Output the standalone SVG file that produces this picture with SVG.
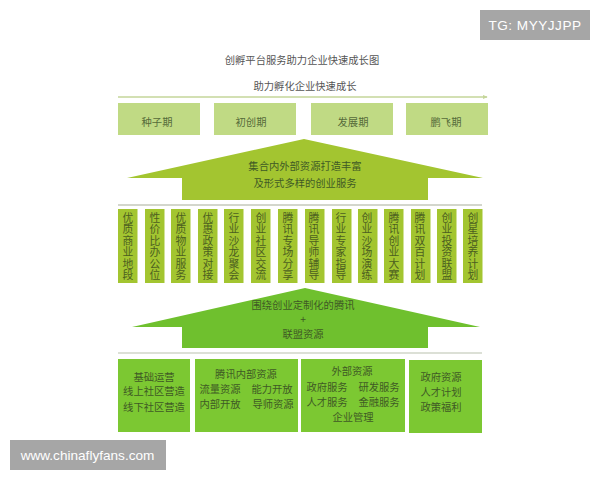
<svg xmlns="http://www.w3.org/2000/svg" width="600" height="480" viewBox="0 0 600 480">
<defs><marker id="ah" markerWidth="4" markerHeight="4" refX="3" refY="2" orient="auto"><path d="M0,0.5L3.5,2L0,3.5z" fill="#c5d69a"/></marker></defs>
<style>
text{font-family:"Noto Sans CJK SC","Liberation Serif",serif;text-anchor:middle;fill:#4a5a38;font-size:10.3px}
.t{fill:#555}
.s{fill:#c0da84}
.v{fill:#a3c530}
.b{fill:#7cc832}
.bt{fill:#3f5a25}
.vt{font-size:10.8px;fill:#4c5f20;writing-mode:vertical-rl;text-anchor:start;letter-spacing:.6px}
.st{fill:#566b3a}
.wm{fill:#a6a6a6}
.wt{font-family:"Liberation Sans",sans-serif;fill:#fff;font-size:13.6px}
</style>
<rect width="600" height="480" fill="#fff"/>
<g id="title"><text class="t" x="302" y="64">创孵平台服务助力企业快速成长图</text></g>
<g id="connectors">
<line x1="118" y1="97" x2="487" y2="97" stroke="#c5d69a" stroke-width="1.5" marker-end="url(#ah)"/>
<line x1="118" y1="205" x2="482" y2="205" stroke="#c4c9bb" stroke-width="1.5"/>
<line x1="118" y1="353" x2="482" y2="353" stroke="#d0d6c8" stroke-width="1.5"/>
</g>
<g id="timeline-label"><text class="t" x="305" y="90">助力孵化企业快速成长</text></g>
<g id="stage1"><rect class="s" x="118" y="103" width="82" height="32"/><text class="st" x="157" y="126">种子期</text></g>
<g id="stage2"><rect class="s" x="214" y="103" width="82" height="32"/><text class="st" x="251" y="126">初创期</text></g>
<g id="stage3"><rect class="s" x="311" y="103" width="82" height="32"/><text class="st" x="353" y="126">发展期</text></g>
<g id="stage4"><rect class="s" x="406" y="103" width="82" height="32"/><text class="st" x="446" y="126">鹏飞期</text></g>
<g id="arrow1"><path class="v" d="M304,139L483,178L428,178L428,200L182,200L182,178L127,178z"/>
<text class="bt" x="305" y="170">集合内外部资源打造丰富</text><text class="bt" x="305" y="187">及形式多样的创业服务</text></g>
<g id="service1"><rect class="v" x="118" y="209" width="19.500" height="74"/><text class="vt" x="128" y="212.500">优质商业地段</text></g>
<g id="service2"><rect class="v" x="145" y="209" width="19.500" height="74"/><text class="vt" x="155" y="212.500">性价比办公位</text></g>
<g id="service3"><rect class="v" x="171" y="209" width="19.500" height="74"/><text class="vt" x="181" y="212.500">优质物业服务</text></g>
<g id="service4"><rect class="v" x="198" y="209" width="19.500" height="74"/><text class="vt" x="208" y="212.500">优惠政策对接</text></g>
<g id="service5"><rect class="v" x="224" y="209" width="19.500" height="74"/><text class="vt" x="234" y="212.500">行业沙龙聚会</text></g>
<g id="service6"><rect class="v" x="251" y="209" width="19.500" height="74"/><text class="vt" x="261" y="212.500">创业社区交流</text></g>
<g id="service7"><rect class="v" x="278" y="209" width="19.500" height="74"/><text class="vt" x="288" y="212.500">腾讯专场分享</text></g>
<g id="service8"><rect class="v" x="305" y="209" width="19.500" height="74"/><text class="vt" x="314" y="212.500">腾讯导师辅导</text></g>
<g id="service9"><rect class="v" x="332" y="209" width="19.500" height="74"/><text class="vt" x="341" y="212.500">行业专家指导</text></g>
<g id="service10"><rect class="v" x="358" y="209" width="19.500" height="74"/><text class="vt" x="367" y="212.500">创业沙场演练</text></g>
<g id="service11"><rect class="v" x="384" y="209" width="19.500" height="74"/><text class="vt" x="394" y="212.500">腾讯创业大赛</text></g>
<g id="service12"><rect class="v" x="411" y="209" width="19.500" height="74"/><text class="vt" x="420" y="212.500">腾讯双百计划</text></g>
<g id="service13"><rect class="v" x="437" y="209" width="19.500" height="74"/><text class="vt" x="447" y="212.500">创业投资联盟</text></g>
<g id="service14"><rect class="v" x="463" y="209" width="19.500" height="74"/><text class="vt" x="473" y="212.500">创星培养计划</text></g>
<g id="arrow2"><path fill="#6fc02e" d="M305,288L480,327L428,327L428,348L182,348L182,327L132,327z"/>
<text class="bt" x="303" y="309">围绕创业定制化的腾讯</text><text class="bt" x="303" y="323">+</text><text class="bt" x="303" y="338">联盟资源</text></g>
<g id="res1"><rect class="b" x="118" y="359" width="72" height="73"/>
<text class="bt" x="154" y="381">基础运营</text><text class="bt" x="154" y="395">线上社区营造</text><text class="bt" x="154" y="410.500">线下社区营造</text></g>
<g id="res2"><rect class="b" x="195" y="359" width="103" height="73"/>
<text class="bt" x="246" y="378">腾讯内部资源</text><text class="bt" x="220" y="393">流量资源</text><text class="bt" x="272" y="393">能力开放</text><text class="bt" x="220" y="408">内部开放</text><text class="bt" x="273" y="408">导师资源</text></g>
<g id="res3"><rect class="b" x="301" y="359" width="104" height="73"/>
<text class="bt" x="352" y="375">外部资源</text><text class="bt" x="327" y="391">政府服务</text><text class="bt" x="379" y="391">研发服务</text><text class="bt" x="327" y="405.500">人才服务</text><text class="bt" x="379" y="405.500">金融服务</text><text class="bt" x="353" y="421">企业管理</text></g>
<g id="res4"><rect class="b" x="409" y="360" width="73" height="73"/>
<text class="bt" x="441" y="381">政府资源</text><text class="bt" x="441" y="395.500">人才计划</text><text class="bt" x="441" y="411">政策福利</text></g>
<g id="wm1"><rect class="wm" x="480" y="10" width="110" height="30"/><text class="wt" x="535" y="30" style="letter-spacing:.5px">TG: MYYJJPP</text></g>
<g id="wm2"><rect class="wm" x="10" y="440" width="156" height="30"/><text class="wt" x="87.500" y="460">www.chinaflyfans.com</text></g>
</svg>
